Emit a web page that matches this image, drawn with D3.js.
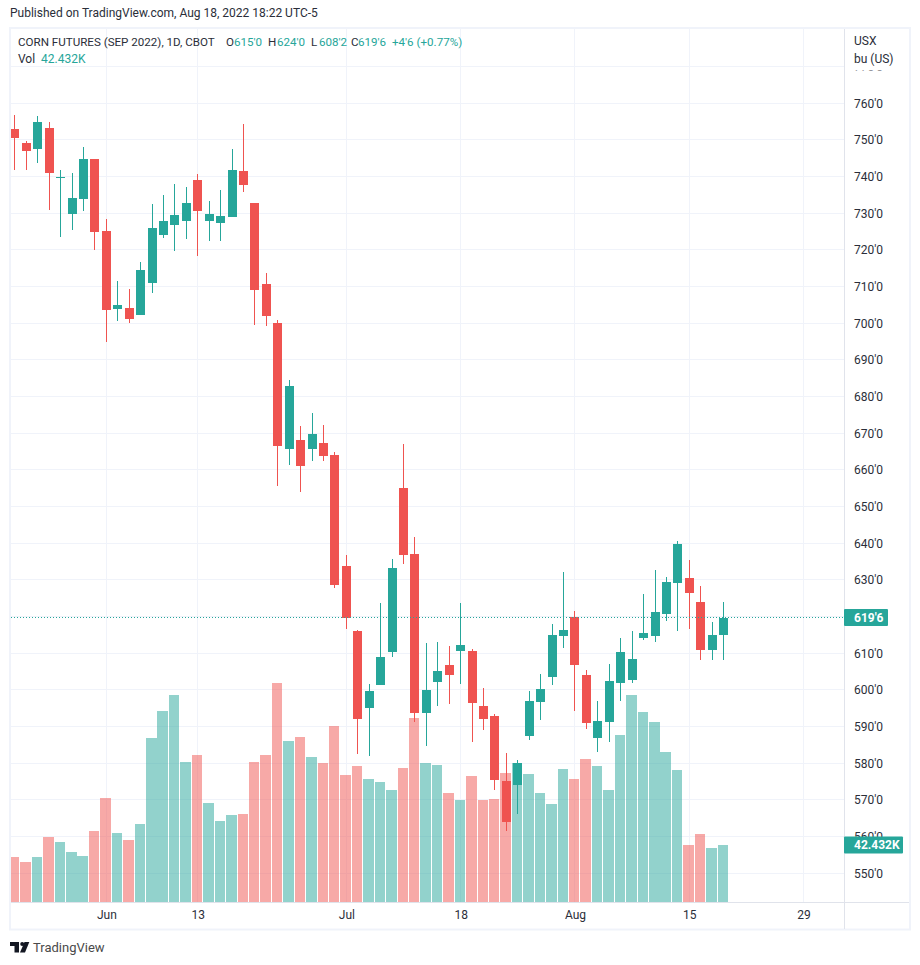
<!DOCTYPE html>
<html>
<head>
<meta charset="utf-8">
<script src="https://cdn.jsdelivr.net/npm/d3@7"></script>
<style>
  html, body { margin: 0; padding: 0; background: #fff; }
  svg { display: block; font-family: "Roboto", sans-serif; }
</style>
</head>
<body>
<div id="chart"></div>
<script>
// trading days, the last seven are the empty space right of the candles
var dates = [
  '05-19','05-20','05-23','05-24','05-25','05-26','05-27','05-31',
  '06-01','06-02','06-03','06-06','06-07','06-08','06-09','06-10',
  '06-13','06-14','06-15','06-16','06-17','06-21','06-22','06-23','06-24',
  '06-27','06-28','06-29','06-30','07-01','07-05','07-06','07-07','07-08',
  '07-11','07-12','07-13','07-14','07-15','07-18','07-19','07-20','07-21','07-22',
  '07-25','07-26','07-27','07-28','07-29','08-01','08-02','08-03','08-04','08-05',
  '08-08','08-09','08-10','08-11','08-12','08-15','08-16','08-17','08-18',
  '08-19','08-22','08-23','08-24','08-25','08-26','08-29'
];

var opens = [753.0,749.2,747.5,753.3,739.6,729.8,733.9,744.8,725.2,703.9,704.2,702.3,711.0,724.1,726.8,727.9,
  739.1,727.9,727.4,729.0,741.5,732.8,710.7,700.1,665.7,668.2,665.7,667.4,664.1,633.8,616.1,595.1,601.4,610.4,
  655.1,637.1,593.7,602.2,606.8,610.6,610.6,595.6,592.9,575.2,574.1,587.5,596.7,603.5,614.7,619.9,604.1,
  586.9,591.3,601.9,602.7,614.2,614.7,620.7,629.2,630.5,624.0,610.9,615.0];
var highs = [756.8,749.7,756.5,754.9,741.8,741.0,748.1,744.8,728.4,711.5,709.3,716.7,732.5,735.0,738.0,737.2,
  740.7,733.4,736.4,747.5,754.4,732.8,713.7,700.9,684.5,672.0,675.5,672.3,664.9,636.8,616.4,601.6,623.7,635.7,
  667.1,641.7,612.8,613.1,612.0,623.7,611.2,600.5,593.4,582.8,580.9,599.7,604.4,618.0,632.2,621.5,605.5,
  597.0,607.1,614.2,616.1,626.2,632.7,630.8,640.6,635.5,628.4,618.5,624.0];
var lows = [741.8,741.8,743.7,730.9,723.5,725.4,730.6,720.0,694.9,700.6,700.1,702.3,708.3,723.3,719.7,723.0,
  718.4,722.4,722.4,729.0,735.8,699.5,699.3,655.6,661.4,654.0,662.4,662.4,627.8,616.6,582.5,582.0,601.4,609.0,
  634.4,591.3,584.7,595.6,596.2,601.6,585.8,589.1,572.7,561.5,566.2,586.4,591.8,601.4,611.5,594.3,589.4,
  583.1,585.8,597.0,601.9,613.6,613.1,618.8,616.1,616.6,608.2,608.2,608.25];
var closes = [750.5,747.0,754.9,741.0,740.0,734.2,744.8,724.9,703.6,705.0,701.2,714.5,726.0,727.9,729.5,732.8,
  730.6,729.8,729.3,741.8,737.7,709.1,702.0,666.5,682.9,661.1,669.8,663.8,628.6,619.6,592.1,599.7,609.0,633.3,
  636.8,593.7,600.0,605.2,604.1,612.3,596.4,592.1,575.5,564.0,580.1,597.0,600.3,615.0,616.4,606.8,591.0,
  591.5,602.4,610.4,608.5,615.5,621.3,629.5,639.8,626.5,610.9,615.0,619.75];
// volume in thousands
var volumes = [33.5,29.8,33.5,48.4,44.7,37.2,34.2,52.8,77.4,51.4,46.1,58.1,122.1,142.2,154.1,104.2,
  109.4,73.7,60.3,64.8,65.5,104.2,109.4,163.0,119.8,122.8,107.9,103.5,131.0,94.5,101.2,91.5,89.3,83.4,
  99.7,137.0,103.5,102.0,81.1,75.9,93.8,75.9,76.7,96.0,103.5,95.3,81.1,72.9,99.0,91.5,106.4,
  101.2,83.4,124.3,154.1,141.4,134.0,111.6,98.2,42.4,50.6,40.2,42.432];

var priceTicks = d3.range(550, 780, 10);
var timeTickDates = ['06-01','06-13','07-01','07-18','08-01','08-15','08-29'];
var timeTickLabels = ['Jun','13','Jul','18','Aug','15','29'];

var lastPrice = 619.75;
var lastPriceLabel = "619'6";
var lastVolumeLabel = '42.432K';

var legendParts = [
  [18, 'CORN FUTURES (SEP 2022), 1D, CBOT', 0], [226, 'O', 0], [234, "615'0", 1], [268, 'H', 0], [277, "624'0", 1],
  [311, 'L', 0], [319, "608'2", 1], [351, 'C', 0], [358, "619'6", 1], [392, "+4'6 (+0.77%)", 1]
];

var up = '#26a69a', down = '#ef5350', gridColor = '#f0f3fa', lineColor = '#e0e3eb', textColor = '#2a2e39';
var W = 920, H = 965;
var left = 10, right = 844, top_ = 28, bottom = 902;

var x = d3.scalePoint().domain(dates).range([14.9, 803.6]);
var y = d3.scaleLinear().domain([550, 760]).range([873.3, 103.3]);
var yVol = d3.scaleLinear().domain([0, 163]).range([bottom, 683]);

var rows = opens.map(function(o, i) {
  return {date: dates[i], o: o, h: highs[i], l: lows[i], c: closes[i], v: volumes[i], color: closes[i] >= o ? up : down};
});

var svg = d3.select('#chart').append('svg').attr('width', W).attr('height', H);

svg.append('defs').append('clipPath').attr('id', 'plot')
  .append('rect').attr('x', left).attr('y', top_).attr('width', right - left).attr('height', bottom - top_);

svg.append('text').attr('x', 10).attr('y', 17).attr('font-size', 12).attr('fill', textColor)
  .text('Published on TradingView.com, Aug 18, 2022 18:22 UTC-5');

// grid
var grid = svg.append('g').attr('shape-rendering', 'crispEdges').attr('stroke', gridColor);
grid.selectAll('.h').data(priceTicks).enter().append('line').attr('class', 'h')
  .attr('x1', left).attr('x2', right)
  .attr('y1', function(d) { return Math.floor(y(d)) + .5; })
  .attr('y2', function(d) { return Math.floor(y(d)) + .5; });
grid.selectAll('.v').data(timeTickDates).enter().append('line').attr('class', 'v')
  .attr('y1', top_).attr('y2', bottom)
  .attr('x1', function(d) { return Math.floor(x(d)) + .5; })
  .attr('x2', function(d) { return Math.floor(x(d)) + .5; });

var plot = svg.append('g').attr('clip-path', 'url(#plot)').attr('shape-rendering', 'crispEdges');

// volume under the candles
plot.selectAll('.vol').data(rows).enter().append('rect').attr('class', 'vol')
  .attr('x', function(d) { return Math.floor(x(d.date) - 5.5); })
  .attr('width', function(d) { return Math.floor(x(d.date) + 5) - Math.floor(x(d.date) - 5.5); })
  .attr('y', function(d) { return Math.round(yVol(d.v)); })
  .attr('height', function(d) { return bottom - Math.round(yVol(d.v)); })
  .attr('fill', function(d) { return d.color; })
  .attr('opacity', .5);

// wicks then bodies
plot.selectAll('.wick').data(rows).enter().append('rect').attr('class', 'wick')
  .attr('x', function(d) { return Math.floor(x(d.date)); })
  .attr('width', 1)
  .attr('y', function(d) { return Math.round(y(d.h)); })
  .attr('height', function(d) { return Math.round(y(d.l)) - Math.round(y(d.h)); })
  .attr('fill', function(d) { return d.color; });

plot.selectAll('.body').data(rows).enter().append('rect').attr('class', 'body')
  .attr('x', function(d) { return Math.floor(x(d.date)) - 4; })
  .attr('width', 9)
  .attr('y', function(d) { return Math.round(y(Math.max(d.o, d.c))); })
  .attr('height', function(d) { return Math.max(1, Math.round(y(Math.min(d.o, d.c))) - Math.round(y(Math.max(d.o, d.c)))); })
  .attr('fill', function(d) { return d.color; });

// last price line
svg.append('line').attr('x1', left + 1).attr('x2', right)
  .attr('y1', Math.floor(y(lastPrice)) + .5).attr('y2', Math.floor(y(lastPrice)) + .5)
  .attr('stroke', up).attr('stroke-dasharray', '1,2');

// frame and axis lines
svg.append('rect').attr('x', 10).attr('y', 28).attr('width', 900).attr('height', 901.5)
  .attr('fill', 'none').attr('stroke', gridColor).attr('stroke-width', 2);
var rules = svg.append('g').attr('stroke', lineColor).attr('shape-rendering', 'crispEdges');
rules.append('line').attr('x1', right + .5).attr('x2', right + .5).attr('y1', 29).attr('y2', 929);
rules.append('line').attr('x1', 11).attr('x2', 909).attr('y1', bottom + .5).attr('y2', bottom + .5);

// axes
var priceAxis = svg.append('g').attr('transform', 'translate(' + right + ',0)')
  .call(d3.axisRight(y).tickValues(priceTicks).tickSize(0).tickPadding(10)
    .tickFormat(function(d) { return d + "'0"; }));
priceAxis.select('.domain').remove();
priceAxis.attr('font-family', null).attr('font-size', 12).selectAll('text').attr('fill', textColor);

var timeAxis = svg.append('g').attr('transform', 'translate(0,' + bottom + ')')
  .call(d3.axisBottom(x).tickValues(timeTickDates).tickSize(0).tickPadding(8)
    .tickFormat(function(d, i) { return timeTickLabels[i]; }));
timeAxis.select('.domain').remove();
timeAxis.attr('font-family', null).attr('font-size', 12).selectAll('text').attr('fill', textColor);

// unit labels sit on a white box that hides most of the 770 tick
svg.append('rect').attr('x', right + 1).attr('y', 30).attr('width', 64).attr('height', 40.5).attr('fill', '#fff');
svg.append('text').attr('x', 854).attr('y', 45).attr('font-size', 12).attr('fill', textColor).text('USX');
svg.append('text').attr('x', 854).attr('y', 63).attr('font-size', 12).attr('fill', textColor).text('bu (US)');

// last value badges
function badge(cy, w, label) {
  svg.append('rect').attr('x', right).attr('y', cy - 8.5).attr('width', w).attr('height', 17).attr('rx', 1).attr('fill', up);
  svg.append('text').attr('x', 854).attr('y', cy + 4.2).attr('font-size', 12).attr('font-weight', 'bold')
    .attr('fill', '#fff').text(label);
}
badge(y(lastPrice), 44, lastPriceLabel);
badge(yVol(42.432), 59, lastVolumeLabel);

// legend
svg.selectAll('.legend').data(legendParts).enter().append('text').attr('class', 'legend')
  .attr('x', function(d) { return d[0]; }).attr('y', 46).attr('font-size', 11.6)
  .attr('fill', function(d) { return d[2] ? up : textColor; })
  .text(function(d) { return d[1]; });
svg.append('text').attr('x', 18).attr('y', 63).attr('font-size', 12).attr('fill', textColor).text('Vol');
svg.append('text').attr('x', 41).attr('y', 63).attr('font-size', 12).attr('fill', up).text(lastVolumeLabel);

// footer logo
var logo = svg.append('g').attr('transform', 'translate(10,942)').attr('fill', '#131722');
logo.append('path').attr('d', 'M0 0H9V10.5H4.5V4H0Z');
logo.append('circle').attr('cx', 12.2).attr('cy', 2).attr('r', 2);
logo.append('path').attr('d', 'M14.5 0H19.3L15 10.5H10Z');
svg.append('text').attr('x', 33).attr('y', 952).attr('font-size', 13).attr('fill', '#4a4a4a').text('TradingView');
</script>
</body>
</html>
